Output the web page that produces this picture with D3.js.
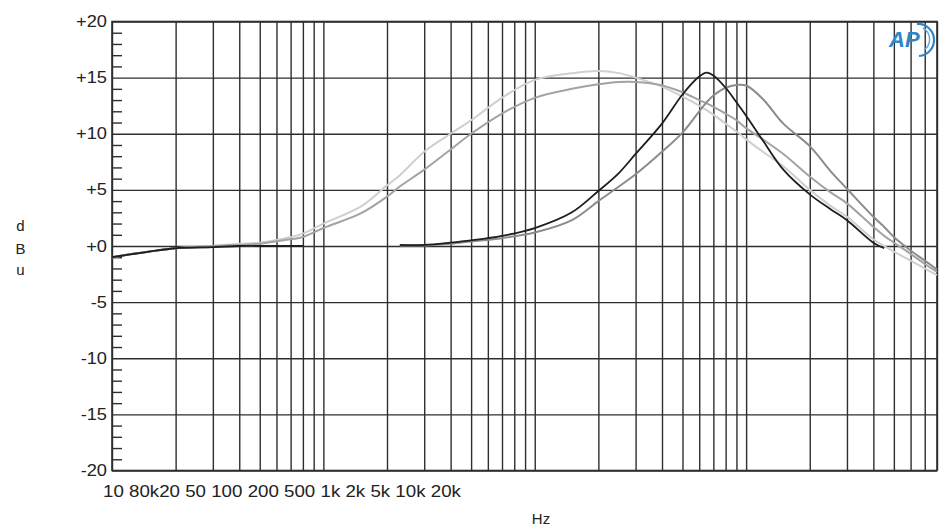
<!DOCTYPE html>
<html>
<head>
<meta charset="utf-8">
<script src="https://cdn.jsdelivr.net/npm/d3@7"></script>
<style>
  html, body { margin: 0; padding: 0; background: #fff; }
  svg { display: block; }
  text { font-family: "Liberation Sans", Arial, sans-serif; fill: #222; }
</style>
</head>
<body>
<script>
// ---------- data ----------
const freqs = [10, 15, 20, 30, 40, 50, 70, 80, 100, 150, 200, 230, 300, 400, 500, 700, 1000, 1500, 2000, 2500, 3000, 4000, 5000, 6000, 6500, 7000, 8000, 9000, 10000, 12000, 15000, 20000, 25000, 30000, 40000, 45000, 50000, 60000, 70000, 80000];

// lightest curve
const seriesLight = [-1.0, -0.5, -0.2, 0.0, 0.2, 0.3, 0.8, 1.1, 2.0, 3.5, 5.4, 6.3, 8.4, 10.0, 11.2, 13.2, 14.8, 15.4, 15.6, 15.4, 15.0, 14.2, 13.3, 12.5, 12.1, 11.7, 10.9, 10.2, 9.5, 8.4, 7.1, 5.0, 3.6, 2.6, 0.6, 0.0, -0.5, -1.3, -2.0, -2.6];
// medium grey broad curve
const seriesGrey1 = [-1.0, -0.5, -0.2, 0.0, 0.1, 0.2, 0.6, 0.8, 1.6, 2.9, 4.4, 5.3, 6.8, 8.6, 10.0, 11.8, 13.2, 14.0, 14.4, 14.6, 14.6, 14.3, 13.7, 13.0, 12.7, 12.4, 11.8, 11.2, 10.5, 9.5, 8.2, 6.2, 4.8, 3.8, 1.7, 0.9, 0.3, -0.7, -1.6, -2.3];
// dark curve (gap between ~80 Hz and ~230 Hz)
const seriesDark = [-1.0, -0.5, -0.2, -0.1, 0.0, 0.0, 0.0, 0.0, null, null, null, 0.1, 0.1, 0.3, 0.5, 0.9, 1.6, 3.0, 4.9, 6.5, 8.2, 10.9, 13.5, 15.1, 15.45, 15.2, 14.1, 12.8, 11.6, 9.4, 6.8, 4.6, 3.3, 2.3, 0.3, -0.2, null, null, null, null];
// medium grey peaked curve (same gap)
const seriesGrey2 = [-1.0, -0.5, -0.2, -0.1, 0.0, 0.0, 0.0, 0.0, null, null, null, 0.05, 0.05, 0.2, 0.4, 0.7, 1.2, 2.3, 4.0, 5.3, 6.4, 8.4, 10.1, 12.0, 12.8, 13.4, 14.1, 14.35, 14.3, 13.1, 10.9, 8.9, 6.7, 5.1, 2.6, 1.7, 0.8, -0.4, -1.3, -2.1];

const yTickLabels = ["-20", "-15", "-10", "-5", "+0", "+5", "+10", "+15", "+20"];
const xTickLabels = ["10", "80k", "20", "50", "100", "200", "500", "1k", "2k", "5k", "10k", "20k"];

// ---------- layout ----------
const W = 948, H = 531;
const pLeft = 112, pRight = 937, pTop = 21.5, pBottom = 470.5;

const svg = d3.select("body").append("svg").attr("width", W).attr("height", H);
svg.append("rect").attr("width", W).attr("height", H).attr("fill", "#fff");

const x = d3.scaleLog().domain([10, 80000]).range([pLeft, pRight]);
const y = d3.scaleLinear().domain([-20, 20]).range([pBottom, pTop]);

const gridColor = "#2e2e2e";

// vertical log grid
const gx = svg.append("g").attr("transform", `translate(0,${pBottom})`)
  .call(d3.axisBottom(x).tickSize(-(pBottom - pTop)).tickFormat(""));
gx.select(".domain").remove();
gx.selectAll(".tick line").attr("stroke", gridColor).attr("stroke-width", 1.4);

// horizontal grid at every 5 dB
const gy = svg.append("g").attr("transform", `translate(${pLeft},0)`)
  .call(d3.axisLeft(y).tickValues(d3.range(-20, 21, 5)).tickSize(-(pRight - pLeft)).tickFormat(""));
gy.select(".domain").remove();
gy.selectAll(".tick line").attr("stroke", gridColor).attr("stroke-width", 1.4);

// minor ticks every 1 dB on left axis
const gm = svg.append("g").attr("transform", `translate(${pLeft},0)`)
  .call(d3.axisLeft(y).tickValues(d3.range(-20, 21, 1).filter(v => v % 5 !== 0)).tickSize(-10).tickFormat(""));
gm.select(".domain").remove();
gm.selectAll(".tick line").attr("stroke", gridColor).attr("stroke-width", 1.4);

// frame
svg.append("rect").attr("x", pLeft).attr("y", pTop).attr("width", pRight - pLeft).attr("height", pBottom - pTop)
  .attr("fill", "none").attr("stroke", gridColor).attr("stroke-width", 1.6);

// y tick labels
const yVals = d3.range(-20, 21, 5);
svg.append("g").selectAll("text").data(yVals).join("text")
  .attr("transform", d => `translate(107,${y(d) + 5.5}) scale(1.14,1)`)
  .attr("text-anchor", "end")
  .attr("font-size", 16)
  .text((d, i) => yTickLabels[i]);

// x tick labels (as laid out in the original: packed in one row)
const xLabelText = xTickLabels[0] + " " + xTickLabels[1] + xTickLabels.slice(2).join(" ");
svg.append("text")
  .attr("transform", "translate(103,497) scale(1.17,1)")
  .attr("font-size", 16)
  .text(xLabelText);

// axis titles
["d", "B", "u"].forEach((c, i) => {
  svg.append("text").attr("x", 20.5).attr("y", [231, 254, 275][i])
    .attr("text-anchor", "middle").attr("font-size", 15).text(c);
});
svg.append("text").attr("x", 541).attr("y", 524).attr("text-anchor", "middle")
  .attr("font-size", 15).text("Hz");

// curves
const line = d3.line()
  .defined(d => d[1] !== null)
  .x(d => x(d[0]))
  .y(d => y(d[1]))
  .curve(d3.curveCatmullRom.alpha(0.5));

const series = [
  { vals: seriesLight, color: "#cfcfcf", w: 2 },
  { vals: seriesGrey1, color: "#a3a3a3", w: 2 },
  { vals: seriesGrey2, color: "#8c8c8c", w: 2 },
  { vals: seriesDark, color: "#1e1e1e", w: 1.8 }
];
series.forEach(s => {
  svg.append("path")
    .datum(freqs.map((f, i) => [f, s.vals[i]]))
    .attr("fill", "none")
    .attr("stroke", s.color)
    .attr("stroke-width", s.w)
    .attr("stroke-linejoin", "round")
    .attr("d", line);
});

// AP logo
const logo = svg.append("g").attr("transform", "translate(887,18)");
logo.append("text").attr("x", 2).attr("y", 29).attr("font-size", 22).attr("font-style", "italic")
  .attr("font-weight", "bold").style("fill", "#2f86c6").text("AP");
logo.append("path").attr("d", "M30,6 A16,16 0 0 1 32,38").attr("fill", "none")
  .attr("stroke", "#2f86c6").attr("stroke-width", 2.2);
logo.append("path").attr("d", "M36,10 A13,13 0 0 1 37,32").attr("fill", "none")
  .attr("stroke", "#6aa9d8").attr("stroke-width", 1.5);
</script>
</body>
</html>
